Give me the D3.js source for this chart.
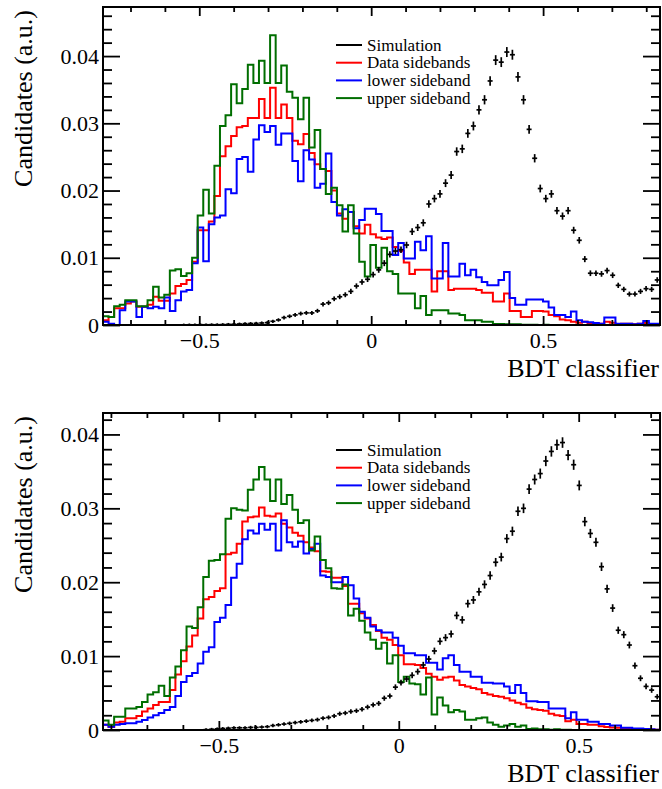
<!DOCTYPE html>
<html>
<head>
<meta charset="utf-8">
<script src="https://cdn.jsdelivr.net/npm/d3@7"></script>
<style>
  body { margin: 0; background: #fff; }
</style>
</head>
<body>
<div class="chart"></div>
<script>
// histogram ranges (100 equal bins each)
var topRange = [-0.78, 0.84],
    bottomRange = [-0.822, 0.726];

// upper plot, bin contents
var topSim = [
  0, 0, 0, 0, 0, 0, 0, 0, 0, 0,
  0, 0, 0, 0, 0.00002, 0.00003, 0.00003, 0.00004, 0.00004, 0.00005,
  0.00005, 0.00007, 0.0001, 0.00012, 0.00015, 0.0002, 0.00022, 0.00025, 0.0003, 0.00035,
  0.00055, 0.00075, 0.0011, 0.0013, 0.0015, 0.0017, 0.0018, 0.0018, 0.0021, 0.0031,
  0.0033, 0.0039, 0.0042, 0.0045, 0.005, 0.0058, 0.0064, 0.0068, 0.0075, 0.0082,
  0.0092, 0.0105, 0.011, 0.0112, 0.0119, 0.0139, 0.0145, 0.0152, 0.018, 0.0188,
  0.0195, 0.0211, 0.0223, 0.0258, 0.0262, 0.0285, 0.0296, 0.032, 0.0335, 0.0363,
  0.0394, 0.0391, 0.0406, 0.0402, 0.0369, 0.0335, 0.0291, 0.0248, 0.0203, 0.0188,
  0.0195, 0.017, 0.0162, 0.017, 0.0141, 0.0126, 0.0098, 0.0077, 0.0077, 0.0076,
  0.0081, 0.0074, 0.0059, 0.0053, 0.0046, 0.0046, 0.005, 0.0054, 0.0053, 0.0067
];
var topData = [
  0.0007, 0.0012, 0.0025, 0.0025, 0.0032, 0.0035, 0.0027, 0.0027, 0.003, 0.0042,
  0.0036, 0.0036, 0.0047, 0.0058, 0.0061, 0.0067, 0.0094, 0.0141, 0.0141, 0.0154,
  0.0192, 0.0251, 0.0266, 0.0281, 0.0294, 0.0296, 0.0308, 0.0308, 0.0336, 0.0308,
  0.0353, 0.0308, 0.0328, 0.0308, 0.0274, 0.0269, 0.0284, 0.0256, 0.0239, 0.0232,
  0.0229, 0.02, 0.0166, 0.0158, 0.0168, 0.0147, 0.0136, 0.0149, 0.0135, 0.013,
  0.0128, 0.013, 0.0116, 0.011, 0.0093, 0.0076, 0.0082, 0.0082, 0.0082, 0.005,
  0.008, 0.008, 0.0052, 0.0054, 0.0054, 0.0054, 0.0054, 0.0052, 0.0048, 0.0048,
  0.0035, 0.0035, 0.0047, 0.0021, 0.0021, 0.0012, 0.0012, 0.0021, 0.0021, 0.002,
  0.0015, 0.0013, 0.0008, 0.0007, 0.0005, 0.00035, 0.0005, 0.00025, 0.00025, 0.0002,
  0.0005, 0.00035, 0.0001, 0.0002, 0.0002, 0.0001, 0.0002, 0.0003, 0.0001, 0.0001
];
var topLower = [
  0.0005, 0.0002, 0, 0.0022, 0.0035, 0.0035, 0.0012, 0.0027, 0.0025, 0.0027,
  0.0025, 0.0041, 0.0021, 0.0037, 0.005, 0.0052, 0.0092, 0.0145, 0.0095, 0.015,
  0.016, 0.0163, 0.0202, 0.0196, 0.0247, 0.025, 0.0228, 0.0276, 0.0297, 0.0287,
  0.0296, 0.0268, 0.0285, 0.0285, 0.0244, 0.0214, 0.026, 0.0246, 0.0204, 0.021,
  0.0255, 0.0183, 0.0163, 0.0172, 0.0168, 0.0144, 0.0156, 0.0173, 0.0173, 0.0165,
  0.014, 0.014, 0.0104, 0.0122, 0.0099, 0.0099, 0.0124, 0.0111, 0.0132, 0.0069,
  0.0069, 0.0122, 0.0072, 0.0072, 0.0091, 0.0074, 0.0082, 0.0071, 0.0064, 0.0059,
  0.0059, 0.0067, 0.0079, 0.004, 0.003, 0.003, 0.0038, 0.0038, 0.0038, 0.0035,
  0.0026, 0.0015, 0.0015, 0.0012, 0.002, 0.0007, 0.0005, 0.0004, 0.0003, 0.0002,
  0.0011, 0.0011, 0.0002, 0.0002, 0.0002, 0.0001, 0.0002, 0.0006, 0.0002, 0.0002
];
var topUpper = [
  0.0013, 0.0012, 0.0028, 0.003, 0.0037, 0.0037, 0.0028, 0.0028, 0.0037, 0.0057,
  0.0041, 0.0045, 0.0081, 0.0083, 0.0073, 0.0077, 0.01, 0.0163, 0.0201, 0.0166,
  0.0237, 0.0296, 0.0312, 0.0358, 0.033, 0.0351, 0.0387, 0.036, 0.0393, 0.036,
  0.0431, 0.036, 0.0386, 0.0347, 0.0338, 0.0306, 0.0338, 0.0264, 0.029, 0.0232,
  0.0195, 0.0204, 0.0178, 0.0139, 0.0178, 0.0136, 0.0094, 0.0072, 0.0119, 0.0085,
  0.0115, 0.008, 0.0076, 0.0047, 0.0047, 0.0047, 0.0025, 0.0043, 0.0015, 0.0022,
  0.0022, 0.0022, 0.0017, 0.0017, 0.0015, 0.0007, 0.0007, 0.0007, 0.0005, 0.0005,
  0.00015, 0.00015, 0.0001, 0.0001, 0.0001, 0.00005, 0.00005, 0.00005, 0, 0.00005,
  0, 0, 0, 0, 0, 0, 0, 0, 0, 0,
  0, 0, 0, 0, 0, 0, 0, 0, 0, 0
];

// lower plot
var bottomSim = [
  0, 0, 0, 0, 0, 0, 0, 0, 0, 0,
  0, 0, 0, 0, 0, 0, 0, 0, 0.00005, 0.0001,
  0.00015, 0.0002, 0.00025, 0.0003, 0.0003, 0.0003, 0.00035, 0.00035, 0.0004, 0.00045,
  0.0006, 0.0007, 0.0008, 0.0009, 0.001, 0.0011, 0.0012, 0.0013, 0.0014, 0.0016,
  0.0017, 0.0019, 0.0022, 0.0023, 0.0025, 0.0026, 0.0028, 0.0031, 0.0034, 0.0036,
  0.0043, 0.0046, 0.0058, 0.0064, 0.0069, 0.0074, 0.0079, 0.0088, 0.0096, 0.0107,
  0.012, 0.0125, 0.013, 0.0155, 0.0149, 0.0171, 0.0176, 0.0187, 0.0197, 0.0209,
  0.0227, 0.0234, 0.0259, 0.0269, 0.0296, 0.03, 0.0326, 0.0339, 0.0347, 0.0364,
  0.0377, 0.0386, 0.0389, 0.0372, 0.0359, 0.0331, 0.0282, 0.0266, 0.0254, 0.0221,
  0.0191, 0.0165, 0.0135, 0.0129, 0.0115, 0.0087, 0.007, 0.0059, 0.0054, 0.0045
];
var bottomData = [
  0.0007, 0.0004, 0.001, 0.0011, 0.0016, 0.0016, 0.0019, 0.0025, 0.0029, 0.0034,
  0.0038, 0.0038, 0.0054, 0.0075, 0.0093, 0.0113, 0.0128, 0.0151, 0.0177, 0.018,
  0.0188, 0.0192, 0.0238, 0.024, 0.0252, 0.0282, 0.0288, 0.0289, 0.0301, 0.029,
  0.0289, 0.0293, 0.0279, 0.0274, 0.0267, 0.0263, 0.0254, 0.0247, 0.0242, 0.0215,
  0.0214, 0.0206, 0.0206, 0.0195, 0.0171, 0.0171, 0.0158, 0.0151, 0.0142, 0.0134,
  0.0125, 0.0122, 0.0115, 0.0101, 0.0089, 0.0089, 0.0088, 0.0084, 0.0076, 0.0072,
  0.0068, 0.0071, 0.0072, 0.0067, 0.0061, 0.0059, 0.0057, 0.0055, 0.005, 0.0048,
  0.0046, 0.0045, 0.0043, 0.004, 0.0037, 0.0035, 0.003, 0.0028, 0.0027, 0.0026,
  0.0022, 0.002, 0.0019, 0.0012, 0.0014, 0.0008, 0.0008, 0.0007, 0.0007, 0.0005,
  0.0004, 0.00035, 0.0003, 0.0002, 0.0002, 0.00015, 0.0001, 0.0001, 0.00008, 0.00005
];
var bottomLower = [
  0.0007, 0.00045, 0.0007, 0.0008, 0.0009, 0.0009, 0.0011, 0.00135, 0.0017, 0.002,
  0.0023, 0.0027, 0.0031, 0.0046, 0.0065, 0.0073, 0.0077, 0.009, 0.0106, 0.0112,
  0.0146, 0.0152, 0.0169, 0.0206, 0.0225, 0.0258, 0.027, 0.0266, 0.0279, 0.0271,
  0.0279, 0.0243, 0.0284, 0.0254, 0.0248, 0.0255, 0.0239, 0.0245, 0.0252, 0.0209,
  0.0207, 0.02, 0.02, 0.0207, 0.0196, 0.0178, 0.016, 0.0152, 0.014, 0.0135,
  0.0132, 0.0132, 0.0125, 0.0114, 0.0104, 0.0104, 0.0101, 0.0101, 0.0091, 0.0091,
  0.0082, 0.0097, 0.0101, 0.0088, 0.0079, 0.0079, 0.0072, 0.0072, 0.0064, 0.0064,
  0.0063, 0.0063, 0.0059, 0.005, 0.0061, 0.005, 0.0039, 0.0039, 0.0038, 0.0038,
  0.0029, 0.0029, 0.0029, 0.0016, 0.0024, 0.0014, 0.0014, 0.0011, 0.0011, 0.0008,
  0.0008, 0.0006, 0.0006, 0.0003, 0.0003, 0.0002, 0.0002, 0.00015, 0.0001, 0.00005
];
var bottomUpper = [
  0.0013, 0.0007, 0.0018, 0.0018, 0.0029, 0.0029, 0.0031, 0.0038, 0.0048, 0.0051,
  0.006, 0.0046, 0.0071, 0.0086, 0.0108, 0.014, 0.0138, 0.0166, 0.0207, 0.0229,
  0.023, 0.0238, 0.0286, 0.03, 0.0298, 0.0297, 0.0325, 0.0339, 0.0356, 0.0339,
  0.031, 0.0339, 0.0306, 0.0318, 0.0298, 0.028, 0.0284, 0.0243, 0.0262, 0.023,
  0.0219, 0.0192, 0.0191, 0.0197, 0.0155, 0.0164, 0.0148, 0.0132, 0.0122, 0.011,
  0.0118, 0.009, 0.0101, 0.0065, 0.0072, 0.0063, 0.0062, 0.0048, 0.0071, 0.0021,
  0.0044, 0.0033, 0.0024, 0.0027, 0.0025, 0.0014, 0.0014, 0.0016, 0.0017, 0.001,
  0.0007, 0.00045, 0.0006, 0.0008, 0.00045, 0.0006, 0.00015, 0.0002, 0.0001, 0.0001,
  0.00005, 0.0001, 0.00005, 0.00005, 0, 0, 0, 0, 0, 0,
  0, 0, 0, 0, 0, 0, 0, 0, 0, 0
];

var xTicks = [-0.5, 0, 0.5],
    yTicks = [0, 0.01, 0.02, 0.03, 0.04];

var legends = [
  {'key': 'sim',   'color': '#000000', 'text': 'Simulation'},
  {'key': 'data',  'color': '#ff0000', 'text': 'Data sidebands'},
  {'key': 'lower', 'color': '#0000ff', 'text': 'lower sideband'},
  {'key': 'upper', 'color': '#006e00', 'text': 'upper sideband'}
];

var width = 662,
  height = 789,
  left = 103,
  right = 660,
  serif = "'Liberation Serif', 'DejaVu Serif', serif";

var panels = [
  {top: 7, bottom: 325, range: topRange, yMax: 0.0473, legendY: 45,
   sim: topSim, data: topData, lower: topLower, upper: topUpper},
  {top: 413, bottom: 730, range: bottomRange, yMax: 0.0429, legendY: 450,
   sim: bottomSim, data: bottomData, lower: bottomLower, upper: bottomUpper}
];

var svg = d3.select('.chart')
  .append('svg')
    .attr('width', width)
    .attr('height', height)
    .style('font-family', serif);

panels.forEach(drawPanel);

function drawPanel(p, k) {
  var x = d3.scaleLinear().domain(p.range).range([left, right]),
      y = d3.scaleLinear().domain([0, p.yMax]).range([p.bottom, p.top]),
      nBins = p.sim.length,
      binW = (p.range[1] - p.range[0]) / nBins;

  var g = svg.append('g').attr('class', 'panel');

  g.append('clipPath')
      .attr('id', 'clip' + k)
    .append('rect')
      .attr('x', left)
      .attr('y', p.top)
      .attr('width', right - left)
      .attr('height', p.bottom - p.top);

  var plot = g.append('g').attr('clip-path', `url(#clip${k})`);

  // step histograms
  var step = d3.line()
    .x(d => x(d[0]))
    .y(d => y(d[1]))
    .curve(d3.curveStepAfter);

  legends.slice(1).forEach(s => {
    var vals = p[s.key];
    var pts = vals.map((v, i) => [p.range[0] + i * binW, v]);
    pts.push([p.range[1], vals[nBins - 1]]);
    plot.append('path')
      .attr('d', step(pts))
      .attr('fill', 'none')
      .attr('stroke', s.color)
      .attr('stroke-width', 2);
  });

  // simulation points with error bars
  var pts = p.sim
    .map((v, i) => ({c: p.range[0] + (i + 0.5) * binW, v: v}))
    .filter(d => d.v > 0);

  var sim = plot.selectAll('.sim')
    .data(pts)
    .enter()
    .append('g')
      .attr('class', 'sim')
      .attr('stroke', '#000')
      .attr('stroke-width', 1.7);

  sim.append('line')
    .attr('x1', d => x(d.c) - 2.5)
    .attr('x2', d => x(d.c) + 2.5)
    .attr('y1', d => y(d.v))
    .attr('y2', d => y(d.v));

  sim.append('line')
    .attr('x1', d => x(d.c))
    .attr('x2', d => x(d.c))
    .attr('y1', d => y(d.v + 0.0028 * Math.sqrt(d.v)) - 1.2)
    .attr('y2', d => y(d.v - 0.0028 * Math.sqrt(d.v)) + 1.2);

  // axes, ROOT style: ticks inside on all four sides
  var xMinor = d3.range(-0.9, 0.95, 0.1)
    .map(v => Math.round(v * 10) / 10)
    .filter(v => v > p.range[0] && v < p.range[1] && xTicks.indexOf(v) < 0);
  var yMinor = d3.range(0.002, p.yMax, 0.002)
    .filter(v => Math.abs(v * 100 - Math.round(v * 100)) > 1e-6);

  var xFmt = d => d === 0 ? '0' : d3.format('.1f')(d),
      yFmt = d => d === 0 ? '0' : d3.format('.2f')(d);

  function addAxis(axis, tx, ty) {
    var a = g.append('g')
      .attr('transform', `translate(${tx}, ${ty})`)
      .call(axis)
      .attr('font-family', serif);
    a.select('.domain').remove();
    a.selectAll('line').attr('stroke-width', 1.8);
    a.selectAll('text')
      .style('font-family', serif)
      .style('font-size', '22px')
      .attr('fill', '#000');
    return a;
  }

  addAxis(d3.axisBottom(x).tickValues(xTicks).tickSize(-9).tickPadding(7).tickFormat(xFmt), 0, p.bottom);
  addAxis(d3.axisBottom(x).tickValues(xMinor).tickSize(-5).tickFormat(''), 0, p.bottom);
  addAxis(d3.axisTop(x).tickValues(xTicks).tickSize(-9).tickFormat(''), 0, p.top);
  addAxis(d3.axisTop(x).tickValues(xMinor).tickSize(-5).tickFormat(''), 0, p.top);
  addAxis(d3.axisLeft(y).tickValues(yTicks).tickSize(-17).tickPadding(4).tickFormat(yFmt), left, 0);
  addAxis(d3.axisLeft(y).tickValues(yMinor).tickSize(-9).tickFormat(''), left, 0);
  addAxis(d3.axisRight(y).tickValues(yTicks).tickSize(-17).tickFormat(''), right, 0);
  addAxis(d3.axisRight(y).tickValues(yMinor).tickSize(-9).tickFormat(''), right, 0);

  // frame
  g.append('rect')
    .attr('x', left)
    .attr('y', p.top)
    .attr('width', right - left)
    .attr('height', p.bottom - p.top)
    .attr('fill', 'none')
    .attr('stroke', '#000')
    .attr('stroke-width', 2);

  // axis titles
  g.append('text')
    .attr('x', 659)
    .attr('y', p.bottom + 52)
    .style('font-family', serif)
    .style('text-anchor', 'end')
    .style('font-size', '26px')
    .text('BDT classifier');

  g.append('text')
    .attr('transform', `translate(32, ${p.top + 3}) rotate(-90)`)
    .style('font-family', serif)
    .style('text-anchor', 'end')
    .style('font-size', '26px')
    .text('Candidates (a.u.)');

  // legend
  var legend = g.selectAll('.legend')
    .data(legends)
    .enter()
    .append('g')
      .attr('class', 'legend')
      .attr('transform', (d, i) => `translate(0, ${p.legendY + i * 17.7})`);

  legend.append('line')
    .attr('x1', 336)
    .attr('x2', 362)
    .attr('stroke', d => d.color)
    .attr('stroke-width', 2);

  legend.append('text')
    .attr('x', 367)
    .attr('y', 5.5)
    .style('font-family', serif)
    .style('font-size', '17px')
    .text(d => d.text);
}
</script>
</body>
</html>
